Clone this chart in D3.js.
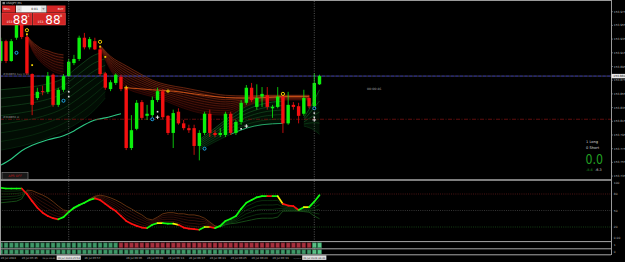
<!DOCTYPE html>
<html>
<head>
<meta charset="utf-8">
<script src="https://cdn.jsdelivr.net/npm/d3@7"></script>
<style>
  html, body { margin: 0; padding: 0; background: #000; }
  svg { display: block; }
  text { font-family: "DejaVu Sans", sans-serif; }
</style>
</head>
<body>
<svg id="chart" width="625" height="262"></svg>
<script>
// ---- candles (USDJPY M1), one entry per bar ----
const opens = [153.903,153.932,153.903,153.937,153.957,153.938,153.884,153.849,153.859,153.858,
  153.883,153.839,153.861,153.881,153.900,153.906,153.937,153.923,153.932,153.920,
  153.885,153.862,153.871,153.880,153.864,153.776,153.804,153.843,153.823,153.824,
  153.846,153.859,153.823,153.798,153.829,153.812,153.805,153.805,153.779,153.798,
  153.826,153.798,153.795,153.795,153.826,153.798,153.814,153.842,153.864,153.836,
  153.851,153.853,153.834,153.836,153.851,153.812,153.839,153.837,153.826,153.849,
  153.837,153.869];
const highs = [153.937,153.934,153.935,153.963,153.960,153.944,153.885,153.864,153.867,153.887,
  153.885,153.864,153.884,153.906,153.912,153.940,153.944,153.938,153.937,153.923,
  153.887,153.875,153.885,153.883,153.867,153.824,153.846,153.846,153.839,153.851,
  153.864,153.862,153.824,153.832,153.834,153.817,153.810,153.810,153.802,153.829,
  153.832,153.802,153.805,153.829,153.829,153.817,153.846,153.868,153.871,153.869,
  153.865,153.865,153.839,153.865,153.853,153.858,153.843,153.842,153.861,153.853,
  153.885,153.883];
const lows = [153.900,153.900,153.902,153.934,153.935,153.883,153.824,153.846,153.853,153.855,
  153.836,153.836,153.858,153.880,153.897,153.903,153.920,153.920,153.919,153.881,
  153.861,153.859,153.868,153.859,153.773,153.773,153.802,153.817,153.817,153.821,
  153.843,153.818,153.795,153.776,153.810,153.802,153.798,153.766,153.758,153.795,
  153.792,153.792,153.792,153.792,153.795,153.795,153.810,153.839,153.843,153.832,
  153.836,153.832,153.820,153.834,153.798,153.810,153.832,153.812,153.823,153.834,
  153.834,153.868];
const closes = [153.932,153.903,153.932,153.957,153.938,153.885,153.839,153.858,153.858,153.881,
  153.839,153.861,153.881,153.902,153.906,153.937,153.923,153.935,153.920,153.884,
  153.864,153.872,153.883,153.862,153.776,153.802,153.842,153.820,153.826,153.846,
  153.859,153.821,153.798,153.827,153.812,153.805,153.802,153.779,153.798,153.826,
  153.798,153.795,153.798,153.826,153.798,153.814,153.842,153.864,153.846,153.849,
  153.855,153.836,153.836,153.851,153.812,153.839,153.836,153.823,153.849,153.837,
  153.871,153.881];

// ---- ribbons on the price chart: [bar, upper, lower] ----
const redFan1 = [[5,153.940,153.937],[6,153.931,153.919],[7,153.925,153.907],[8,153.920,153.899],
  [9,153.918,153.893],[10,153.915,153.888],[11,153.913,153.885],[12,153.912,153.883]];
const redFan2 = [[19,153.926,153.922],[21,153.910,153.890],[24,153.896,153.864],[27,153.883,153.855],
  [29,153.875,153.851],[32,153.868,153.843],[35,153.864,153.834],[39,153.858,153.826],
  [43,153.853,153.824],[47,153.852,153.837],[51,153.853,153.845],[55,153.853,153.846],[59,153.853,153.846]];
const orangeLine = [[24,153.864],[29,153.861],[33,153.859],[37,153.855],[41,153.851],[45,153.849],
  [49,153.849],[54,153.851],[59,153.851]];
const greenFan1 = [[0,153.861,153.773],[4,153.864,153.779],[8,153.868,153.788],[12,153.878,153.801],
  [15,153.896,153.814],[18,153.912,153.832],[20,153.916,153.849]];
const tealLine = [[0,153.751],[2,153.760],[4,153.772],[6,153.780],[9,153.788],[12,153.794],
  [14,153.801],[16,153.810],[18,153.817],[20,153.820],[23,153.826]];
const greenFan2 = [[38,153.788,153.773],[41,153.805,153.785],[44,153.823,153.796],
  [47,153.837,153.805],[50,153.846,153.810],[54,153.851,153.812]];
const greenFan3 = [[58,153.820,153.808],[60,153.846,153.802],[61,153.861,153.796]];

// ---- signal marks: [bar, price] ----
const yellowRings = [[5,153.948],[19,153.931],[54,153.855]];
const yellowDots = [[5,153.942],[6,153.897],[19,153.924],[20,153.909]];
const yellowCrosses = [[24,153.864],[32,153.859]];
const blueRings = [[3,153.915],[12,153.845],[29,153.818],[39,153.775],[60,153.834]];
const whiteCrosses = [[30,153.821],[47,153.808],[60,153.817]];
const whiteDots = [[13,153.858],[13,153.851],[30,153.829],[46,153.804],[60,153.827],[60,153.821]];

const orderPrice = 153.881;
const stopPrice = 153.818;
const bidPrice = "153.880";
const markerBars = [13, 60];

// ---- oscillator window ----
const oscMain = [91,90,90,90,90,80,67,55,46,40, 36,34,38,47,55,60,64,69,72,69,
  62,55,49,40,31,26,22,19,18,24, 27,27,26,26,24,19,17,16,15,20,
  20,18,22,31,35,40,53,64,69,74, 76,76,76,76,62,59,58,51,56,56, 66,78];
const oscSignal = [64,65,66,67,71,87,86,82,78,73, 66,58,51,49,53,58,64,71,76,78,
  76,73,69,64,58,53,47,42,35,33, 38,44,46,46,44,44,42,42,40,36,
  29,22,20,24,26,27,29,31,33,35, 36,36,36,38,49,49,49,49,48,47, 40,35];
const oscTrend = ("gggg" + "rrrrrrr" + "ggggggg" + "rrrrrrrrrr" + "gg" + "y" + "gg" + "y" + "rrrr" +
  "g" + "y" + "r" + "gggggggggg" + "r" + "g" + "y" + "rrr" + "g" + "y" + "gg").split("");
const oscLevels = [80, 50, 20];
const oscTicks = ["100", "80", "50", "20"];

// ---- state bars (1 = bull, 0 = bear, 2 = fresh bull) ----
const barsUpper = [1,1,1,1,1,1,1,1,1,1, 1,1,1,1,1,1,1,1,1,1, 1,1,1,
  0,0,0,0,0,0,0,0,0,0, 0,0,0,0,0,0,0,0,0,0, 0,0,0,0,0,0,0,0,0,0, 0,0,0,0,0,0,0, 2,2];
const barsLower = [1,1,1,1,1,1,1,1,1,1, 1,1,1,1,1,1,1,1,1,1, 1,1,1,1,1,1,1,1,1,1,
  1,1,1,1,1,1,1,1,1,1, 1,1,1,1,1,1,1,1,1,1, 1,1,1,1,1,1,1,1,1,1, 2,2];

// ---- axes ----
const priceTicks = [153.975,153.955,153.935,153.915,153.895,153.875,153.855,153.835,
  153.815,153.795,153.775,153.755,153.735];
const timeTickBars = [0,4,8,16,24,28,32,36,40,44,48,52,56];
const timeTickText = ["26 Jul 2024","26 Jul 05:45","26 Jul 05:49","26 Jul 05:57","26 Jul 06:05",
  "26 Jul 06:09","26 Jul 06:13","26 Jul 06:17","26 Jul 06:21","26 Jul 06:25","26 Jul 06:29",
  "26 Jul 06:33","26 Jul 06:37"];
const markerText = ["26 Jul 2024 05:54", "26 Jul 2024 06:41"];


class TerminalChart {

  constructor(_config) {
    this.config = {
      parentElement: _config.parentElement,
      width: 625,
      height: 262,
      plotRight: 611,
      mainBottom: 180
    };
    this.initVis();
  }

  initVis() {
    let vis = this;
    vis.svg = d3.select(vis.config.parentElement);
    vis.svg.append('rect').attr('width', vis.config.width).attr('height', vis.config.height).attr('fill', '#000');

    // bar index -> pixel, price -> pixel, oscillator -> pixel
    vis.x = d3.scaleLinear().domain([0, 116.6]).range([0.8, 610]);
    vis.y = d3.scaleLinear().domain([153.735, 153.975]).range([176.1, 11.7]);
    vis.yOsc = d3.scaleLinear().domain([0, 100]).range([238, 183]);

    vis.bull = '#0cf00c';
    vis.bear = '#f41010';

    vis.defs = vis.svg.append('defs');
    vis.defs.append('clipPath').attr('id', 'mainClip')
      .append('rect').attr('x', 0).attr('y', 1).attr('width', vis.config.plotRight).attr('height', vis.config.mainBottom - 1);
    vis.mainG = vis.svg.append('g').attr('clip-path', 'url(#mainClip)');

    vis.renderRibbons();
    vis.renderLevels();
    vis.renderCandles();
    vis.renderMarks();
    vis.renderOscillator();
    vis.renderStateBars();
    vis.renderFrame();
    vis.renderAxes();
    vis.renderPanels();
  }

  drawFan(rows, nLines, topColor, botColor, fillColor, width) {
    let vis = this;
    const g = vis.mainG.append('g');
    const area = d3.area().x(d => vis.x(d[0])).y0(d => vis.y(d[1])).y1(d => vis.y(d[2])).curve(d3.curveMonotoneX);
    g.append('path').datum(rows).attr('d', area).attr('fill', fillColor);
    const col = d3.interpolateRgb(topColor, botColor);
    d3.range(nLines).forEach(k => {
      const t = k / (nLines - 1);
      const line = d3.line().x(d => vis.x(d[0])).y(d => vis.y(d[1] + (d[2] - d[1]) * t)).curve(d3.curveMonotoneX);
      g.append('path').datum(rows).attr('d', line)
        .attr('fill', 'none').attr('stroke', col(t)).attr('stroke-width', width);
    });
  }

  renderRibbons() {
    let vis = this;
    vis.drawFan(greenFan1, 8, '#1c6428', '#0a3412', 'rgba(3,26,8,0.5)', 0.55);
    vis.drawFan(greenFan2, 7, '#247a36', '#0c4218', 'rgba(3,34,10,0.5)', 0.55);
    vis.drawFan(greenFan3, 5, '#247a36', '#0c4218', 'rgba(3,34,10,0.5)', 0.55);
    vis.drawFan(redFan1, 8, '#983418', '#4a0c06', 'rgba(40,6,3,0.55)', 0.6);
    vis.drawFan(redFan2, 10, '#a03a18', '#4a0c06', 'rgba(40,6,3,0.55)', 0.6);

    const line = d3.line().x(d => vis.x(d[0])).y(d => vis.y(d[1])).curve(d3.curveMonotoneX);
    vis.mainG.append('path').datum(orangeLine).attr('d', line)
      .attr('fill', 'none').attr('stroke', '#d85818').attr('stroke-width', 0.9);
    vis.mainG.append('path').datum(tealLine).attr('d', line)
      .attr('fill', 'none').attr('stroke', '#2cc884').attr('stroke-width', 1.1);
    // lower edge of the second green fan is drawn brighter
    vis.mainG.append('path').datum(greenFan2.slice(2).map(d => [d[0], d[2]])).attr('d', line)
      .attr('fill', 'none').attr('stroke', '#28b070').attr('stroke-width', 0.9);
  }

  renderLevels() {
    let vis = this;
    const right = vis.config.plotRight;
    // order line
    vis.mainG.append('line').attr('x1', 0).attr('x2', right)
      .attr('y1', vis.y(orderPrice)).attr('y2', vis.y(orderPrice))
      .attr('stroke', '#707070').attr('stroke-width', 0.6);
    vis.mainG.append('line').attr('x1', 0).attr('x2', right)
      .attr('y1', vis.y(orderPrice)).attr('y2', vis.y(orderPrice))
      .attr('stroke', '#2828a8').attr('stroke-width', 0.9).attr('stroke-dasharray', '3,1.6');
    // stop line
    vis.mainG.append('line').attr('x1', 0).attr('x2', right)
      .attr('y1', vis.y(stopPrice)).attr('y2', vis.y(stopPrice))
      .attr('stroke', '#8a1414').attr('stroke-width', 0.7).attr('stroke-dasharray', '4,1.5,1,1.5');

    vis.mainG.append('text').attr('x', 3).attr('y', vis.y(orderPrice) - 1.2)
      .attr('font-size', 2.8).attr('fill', '#8a8a8a').text('#398856 buy 0.01');
    vis.mainG.append('text').attr('x', 3).attr('y', vis.y(stopPrice) - 1.2)
      .attr('font-size', 2.8).attr('fill', '#8a8a8a').text('#398856 sl');
  }

  renderCandles() {
    let vis = this;
    const idx = d3.range(opens.length);
    const color = i => closes[i] >= opens[i] ? vis.bull : vis.bear;
    vis.mainG.selectAll('line.wick').data(idx).join('line')
      .attr('class', 'wick')
      .attr('x1', i => vis.x(i)).attr('x2', i => vis.x(i))
      .attr('y1', i => vis.y(highs[i])).attr('y2', i => vis.y(lows[i]))
      .attr('stroke', color).attr('stroke-width', 0.8);
    vis.mainG.selectAll('rect.body').data(idx).join('rect')
      .attr('class', 'body')
      .attr('x', i => vis.x(i) - 1.7).attr('width', 3.4)
      .attr('y', i => vis.y(Math.max(opens[i], closes[i])))
      .attr('height', i => Math.max(0.9, Math.abs(vis.y(opens[i]) - vis.y(closes[i]))))
      .attr('fill', color);
  }

  renderMarks() {
    let vis = this;
    const g = vis.mainG.append('g');
    g.selectAll('circle.yring').data(yellowRings).join('circle')
      .attr('cx', d => vis.x(d[0])).attr('cy', d => vis.y(d[1])).attr('r', 1.6)
      .attr('fill', 'none').attr('stroke', '#f0d000').attr('stroke-width', 1);
    g.selectAll('rect.ydot').data(yellowDots).join('rect')
      .attr('x', d => vis.x(d[0]) - 0.9).attr('y', d => vis.y(d[1]) - 0.9)
      .attr('width', 1.8).attr('height', 1.8).attr('fill', '#f0d000');
    yellowCrosses.forEach(d => {
      const cx = vis.x(d[0]), cy = vis.y(d[1]);
      g.append('path').attr('d', `M${cx - 2},${cy}H${cx + 2}M${cx},${cy - 2}V${cy + 2}`)
        .attr('stroke', '#f0d000').attr('stroke-width', 0.9);
    });
    g.selectAll('circle.bring').data(blueRings).join('circle')
      .attr('cx', d => vis.x(d[0])).attr('cy', d => vis.y(d[1])).attr('r', 1.5)
      .attr('fill', '#000').attr('stroke', '#20a8e8').attr('stroke-width', 1);
    whiteCrosses.forEach(d => {
      const cx = vis.x(d[0]), cy = vis.y(d[1]);
      g.append('path').attr('d', `M${cx - 1.8},${cy}H${cx + 1.8}M${cx},${cy - 1.8}V${cy + 1.8}`)
        .attr('stroke', '#f0f0f0').attr('stroke-width', 0.9);
    });
    g.selectAll('rect.wdot').data(whiteDots).join('rect')
      .attr('x', d => vis.x(d[0]) - 0.8).attr('y', d => vis.y(d[1]) - 0.8)
      .attr('width', 1.6).attr('height', 1.6).attr('fill', '#e8e8e8');
  }

  renderOscillator() {
    let vis = this;
    const g = vis.svg.append('g');
    const colors = { g: '#10ff10', r: '#ff1010', y: '#f8f000' };
    const right = vis.config.plotRight;

    oscLevels.forEach((lv, k) => {
      g.append('line').attr('x1', 0).attr('x2', right)
        .attr('y1', vis.yOsc(lv)).attr('y2', vis.yOsc(lv))
        .attr('stroke', ['#6e1c1c', '#4a4a4a', '#1e5a1e'][k]).attr('stroke-width', 0.7)
        .attr('stroke-dasharray', '1,1.2');
    });

    const segs = d3.range(oscMain.length - 1);
    // fan between the fast and slow line
    [0.2, 0.4, 0.6, 0.8].forEach(t => {
      g.selectAll(null).data(segs).join('line')
        .attr('x1', i => vis.x(i)).attr('x2', i => vis.x(i + 1))
        .attr('y1', i => vis.yOsc(oscMain[i] + (oscSignal[i] - oscMain[i]) * t))
        .attr('y2', i => vis.yOsc(oscMain[i + 1] + (oscSignal[i + 1] - oscMain[i + 1]) * t))
        .attr('stroke', i => oscMain[i] >= oscSignal[i] ? '#155a18' : '#5e1a10')
        .attr('stroke-width', 0.5);
    });
    g.selectAll(null).data(segs).join('line')
      .attr('x1', i => vis.x(i)).attr('x2', i => vis.x(i + 1))
      .attr('y1', i => vis.yOsc(oscSignal[i])).attr('y2', i => vis.yOsc(oscSignal[i + 1]))
      .attr('stroke', i => oscMain[i] >= oscSignal[i] ? '#1c5e1c' : '#7a3c14')
      .attr('stroke-width', 0.8);
    g.selectAll(null).data(segs).join('line')
      .attr('x1', i => vis.x(i)).attr('x2', i => vis.x(i + 1))
      .attr('y1', i => vis.yOsc(oscMain[i])).attr('y2', i => vis.yOsc(oscMain[i + 1]))
      .attr('stroke', i => colors[oscTrend[i]])
      .attr('stroke-width', 1.7).attr('stroke-linecap', 'round');
  }

  renderStateBars() {
    let vis = this;
    const fill = ['#a8303e', '#3f9868', '#58c888'];
    const edge = ['#5a1820', '#1e5036', '#2e7a50'];
    const g = vis.svg.append('g');
    g.selectAll('rect.up').data(barsUpper).join('rect')
      .attr('x', (d, i) => vis.x(i) - 2).attr('width', 4)
      .attr('y', 242.8).attr('height', 5)
      .attr('fill', d => fill[d]).attr('stroke', d => edge[d]).attr('stroke-width', 0.6);
    g.selectAll('rect.lo').data(barsLower).join('rect')
      .attr('x', (d, i) => vis.x(i) - 2).attr('width', 4)
      .attr('y', 249.8).attr('height', 4.2)
      .attr('fill', d => fill[d]).attr('stroke', d => edge[d]).attr('stroke-width', 0.6);
  }

  renderFrame() {
    let vis = this;
    const right = vis.config.plotRight;
    const g = vis.svg.append('g');
    // period separators
    markerBars.forEach(b => {
      g.append('line').attr('x1', vis.x(b)).attr('x2', vis.x(b)).attr('y1', 1).attr('y2', 255)
        .attr('stroke', '#7a7a7a').attr('stroke-width', 0.7).attr('stroke-dasharray', '1,1.4');
    });
    g.append('line').attr('x1', 0).attr('x2', right).attr('y1', 0.5).attr('y2', 0.5)
      .attr('stroke', '#9a9a9a').attr('stroke-width', 1);
    g.append('line').attr('x1', 0.5).attr('x2', 0.5).attr('y1', 0).attr('y2', 255)
      .attr('stroke', '#9a9a9a').attr('stroke-width', 1);
    g.append('line').attr('x1', right + 0.5).attr('x2', right + 0.5).attr('y1', 0).attr('y2', 255)
      .attr('stroke', '#9a9a9a').attr('stroke-width', 1);
    [[180, 1.6], [241.6, 1], [248.8, 1], [254.8, 1]].forEach(s => {
      g.append('line').attr('x1', 0).attr('x2', right).attr('y1', s[0]).attr('y2', s[0])
        .attr('stroke', '#a8a8a8').attr('stroke-width', s[1]);
    });
  }

  renderAxes() {
    let vis = this;
    const right = vis.config.plotRight;
    const g = vis.svg.append('g').attr('fill', '#b8b8b8').attr('font-size', 2.9);

    priceTicks.forEach(p => {
      g.append('line').attr('x1', right).attr('x2', right + 2).attr('y1', vis.y(p)).attr('y2', vis.y(p))
        .attr('stroke', '#9a9a9a').attr('stroke-width', 0.6);
      g.append('text').attr('x', right + 2.8).attr('y', vis.y(p) + 1).text(p.toFixed(3));
    });
    // bid label
    g.append('rect').attr('x', right + 0.5).attr('y', vis.y(orderPrice) - 2.2).attr('width', 13.5).attr('height', 4.4)
      .attr('fill', '#e8e8e8');
    g.append('text').attr('x', right + 2.3).attr('y', vis.y(orderPrice) + 1).attr('fill', '#111').text(bidPrice);

    [100, 80, 50, 20].forEach((v, k) => {
      g.append('text').attr('x', right + 2.8).attr('y', vis.yOsc(v) + 1).text(oscTicks[k]);
    });
    g.append('text').attr('x', right + 2.8).attr('y', 239).text('0.00');
    g.append('text').attr('x', right + 2.8).attr('y', 245.5).text('1');
    g.append('text').attr('x', right + 2.8).attr('y', 253).text('0');

    // highlighted marker labels first, so their width is known
    const tg = g.append('g');
    const markerLefts = markerBars.map((b, k) => {
      const t = g.append('text').attr('x', vis.x(b)).attr('y', 258.8).attr('text-anchor', 'middle')
        .attr('font-size', 2.5).attr('fill', '#222').text(markerText[k]);
      const w = t.node().getComputedTextLength();
      g.insert('rect', () => t.node()).attr('x', vis.x(b) - w / 2 - 1).attr('y', 255.4)
        .attr('width', w + 2).attr('height', 4.5).attr('fill', '#e0e0e0');
      return vis.x(b) - w / 2 - 1;
    });
    // ordinary time labels; one running into a marker label gets a smaller font
    timeTickBars.forEach((b, k) => {
      const t = tg.append('text').attr('x', vis.x(b)).attr('y', 258.5).attr('font-size', 2.7).text(timeTickText[k]);
      const w = t.node().getComputedTextLength();
      const next = markerLefts.find(m => m > vis.x(b));
      const room = next === undefined ? Infinity : next - 1.5 - vis.x(b);
      if (w > room) {
        t.attr('font-size', (2.7 * room / w).toFixed(2));
      }
    });
  }

  renderPanels() {
    let vis = this;
    const g = vis.svg.append('g');
    const red = '#d42626';

    g.append('text').attr('x', 6).attr('y', 3.8).attr('font-size', 2.9).attr('fill', '#d8d8d8').text('USDJPY,M1');
    g.append('rect').attr('x', 2.5).attr('y', 2).attr('width', 2.4).attr('height', 2.2).attr('fill', '#8a8a8a');

    // one-click trading panel
    g.append('rect').attr('x', 2).attr('y', 5.5).attr('width', 13.5).attr('height', 7).attr('fill', red);
    g.append('text').attr('x', 3.5).attr('y', 9.6).attr('font-size', 2.8).attr('fill', '#fff').text('SELL');
    g.append('rect').attr('x', 16).attr('y', 5.5).attr('width', 30.5).attr('height', 7).attr('fill', '#f4f4f4');
    g.append('rect').attr('x', 16.6).attr('y', 6.3).attr('width', 5).attr('height', 5.4).attr('fill', '#d8d8d8');
    g.append('rect').attr('x', 40.9).attr('y', 6.3).attr('width', 5).attr('height', 5.4).attr('fill', '#d8d8d8');
    g.append('text').attr('x', 19.1).attr('y', 10.2).attr('text-anchor', 'middle').attr('font-size', 3.4).attr('fill', '#222').text('–');
    g.append('text').attr('x', 43.4).attr('y', 10.2).attr('text-anchor', 'middle').attr('font-size', 3.4).attr('fill', '#222').text('+');
    g.append('text').attr('x', 34.5).attr('y', 10.2).attr('text-anchor', 'middle').attr('font-size', 3).attr('fill', '#111').text('0.01');
    g.append('rect').attr('x', 47).attr('y', 5.5).attr('width', 18.5).attr('height', 7).attr('fill', red);
    g.append('text').attr('x', 63.5).attr('y', 9.6).attr('text-anchor', 'end').attr('font-size', 2.8).attr('fill', '#fff').text('BUY');

    [[2, 30, '1'], [33, 32.5, '8']].forEach((b, k) => {
      const x0 = b[0];
      g.append('rect').attr('x', x0).attr('y', 13).attr('width', b[1]).attr('height', 12)
        .attr('fill', red).attr('stroke', '#f05050').attr('stroke-width', 0.5);
      g.append('text').attr('x', x0 + 4.6).attr('y', 22.6).attr('font-size', 3).attr('fill', '#fff').text('153');
      g.append('text').attr('x', x0 + 10.8 + k * 1.5).attr('y', 23.6).attr('font-family', '"Liberation Sans", sans-serif')
        .attr('font-size', 12).attr('fill', '#fff').text('88');
      g.append('text').attr('x', x0 + 25.4 + k * 1.5).attr('y', 17.2).attr('font-size', 3.4).attr('fill', '#fff').text(b[2]);
    });

    // APR button
    g.append('rect').attr('x', 2).attr('y', 172.6).attr('width', 26).attr('height', 6.6)
      .attr('fill', '#181818').attr('stroke', '#8a8a8a').attr('stroke-width', 0.6);
    g.append('text').attr('x', 15).attr('y', 177.2).attr('text-anchor', 'middle').attr('font-size', 3.2)
      .attr('fill', '#c01818').text('APR OFF');

    // countdown
    g.append('text').attr('x', 367).attr('y', 89.5).attr('font-size', 3.2).attr('fill', '#a8a8a8').text('00:00:46');

    // position summary
    g.append('text').attr('x', 586).attr('y', 143).attr('font-size', 3.6).attr('fill', '#d8d8d8').text('1  Long');
    g.append('text').attr('x', 586).attr('y', 149.2).attr('font-size', 3.6).attr('fill', '#d8d8d8').text('0  Short');
    g.append('text').attr('x', 585.5).attr('y', 164).attr('font-family', '"Liberation Sans", sans-serif')
      .attr('font-size', 14.5).attr('textLength', 17.5).attr('lengthAdjust', 'spacingAndGlyphs')
      .attr('fill', '#22a022').text('0.0');
    g.append('text').attr('x', 586).attr('y', 170.6).attr('font-size', 3.4).attr('fill', '#22a022').text('-8.4');
    g.append('text').attr('x', 595).attr('y', 170.6).attr('font-size', 3.4).attr('fill', '#d8d8d8').text('-6.3');
  }
}

new TerminalChart({ parentElement: '#chart' });
</script>
</body>
</html>
